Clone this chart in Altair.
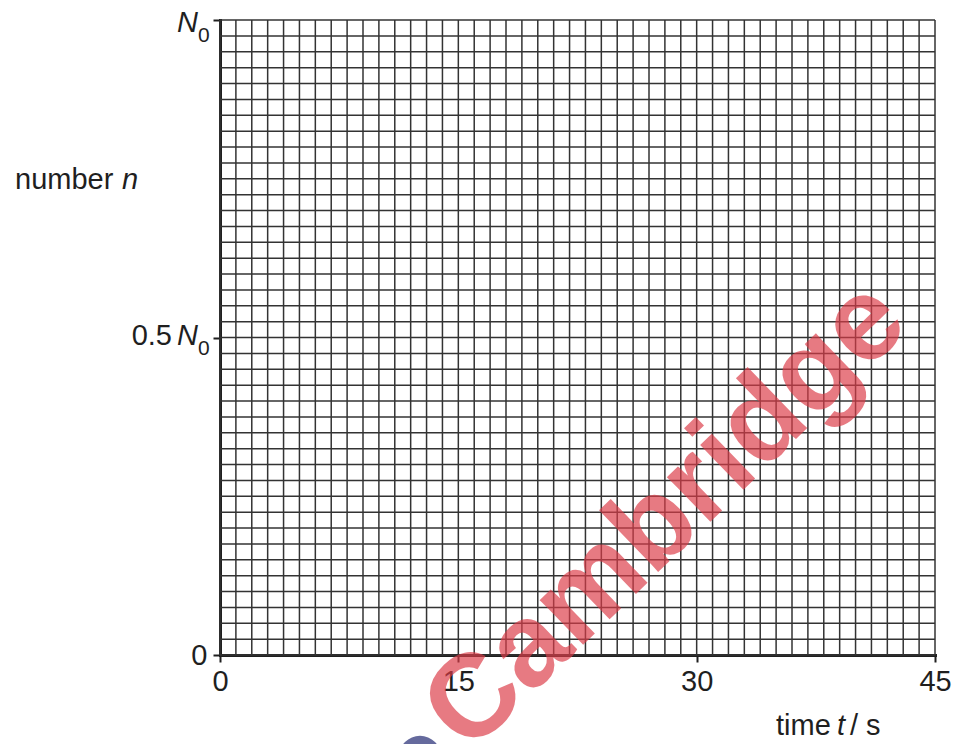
import altair as alt
import pandas as pd

FONT = "Liberation Sans"
INK = "#1f1f1f"
GRID = "#333333"

# time axis, seconds: one grid line per second, labelled every 15 s
t_minor = list(range(0, 46))
t_major = [0, 15, 30, 45]

# number axis, as a fraction of N0: 40 small squares, ticks at 0, 0.5 and 1
n_minor = [i / 40 for i in range(41)]
n_major = [0, 0.5, 1]

# labels written beside the vertical ticks
n_label_values = [1.0, 0.5]
n_label_coef = ["", "0.5"]
n_label_symbol = ["N", "N"]
n_label_sub = ["0", "0"]

xs = alt.Scale(domain=[0, 45], nice=False, zero=False)
ys = alt.Scale(domain=[0, 1], nice=False, zero=False)

x_axis = alt.Axis(
    values=t_major, title=None, grid=False,
    domainColor=INK, domainWidth=3, domainCap="square",
    tickColor=INK, tickWidth=2, tickSize=7,
    labelFont=FONT, labelFontSize=29, labelColor=INK,
    labelPadding=5, labelBaseline="top", labelFlush=False, labelOverlap=False,
)
y_axis = alt.Axis(
    values=n_major, title=None, grid=False,
    domainColor=INK, domainWidth=3, domainCap="square",
    tickColor=INK, tickWidth=2, tickSize=7,
    labelFont=FONT, labelFontSize=29, labelColor=INK,
    labelPadding=6, labelFlush=False, labelOverlap=False,
    labelExpr="datum.value === 0 ? '0' : ''",
)

# graph-paper grid
vgrid = alt.Chart(pd.DataFrame({"t": t_minor})).mark_rule(
    color=GRID, strokeWidth=1.5
).encode(x=alt.X("t:Q", scale=xs, axis=x_axis))

hgrid = alt.Chart(pd.DataFrame({"n": n_minor})).mark_rule(
    color=GRID, strokeWidth=1.5
).encode(y=alt.Y("n:Q", scale=ys, axis=y_axis))

layers = [vgrid, hgrid]

# "0.5 N0" style labels: coefficient, italic N, subscript 0
label_dy = [12, 7]
for i, v in enumerate(n_label_values):
    df = pd.DataFrame({
        "n": [v],
        "coef": [n_label_coef[i]],
        "sym": [n_label_symbol[i]],
        "sub": [n_label_sub[i]],
    })
    base = alt.Chart(df)
    yenc = alt.Y("n:Q", scale=ys, axis=y_axis)
    dy = label_dy[i]
    layers.append(base.mark_text(
        align="right", baseline="alphabetic", dy=dy,
        font=FONT, fontSize=29, color=INK,
    ).encode(x=alt.value(-48), y=yenc, text="coef:N"))
    layers.append(base.mark_text(
        align="left", baseline="alphabetic", dy=dy,
        font=FONT, fontSize=29, fontStyle="italic", color=INK,
    ).encode(x=alt.value(-43), y=yenc, text="sym:N"))
    layers.append(base.mark_text(
        align="left", baseline="alphabetic", dy=dy + 10,
        font=FONT, fontSize=21, color=INK,
    ).encode(x=alt.value(-22), y=yenc, text="sub:N"))


def caption(text, x, y, italic=False):
    return alt.Chart(pd.DataFrame({"label": [text]})).mark_text(
        align="left", baseline="alphabetic", font=FONT, fontSize=29,
        fontStyle="italic" if italic else "normal", color=INK,
    ).encode(x=alt.value(x), y=alt.value(y), text="label:N")


# axis captions with italic quantity symbols
layers += [
    caption("number", -205, 169),
    caption("n", -98, 169, italic=True),
    caption("time", 556, 715),
    caption("t", 617, 715, italic=True),
    caption("/ s", 630, 715),
]

# publisher watermark across the grid
watermark = alt.Chart(pd.DataFrame({"label": ["Cambridge"]})).mark_text(
    align="center", baseline="middle", angle=316,
    font=FONT, fontSize=118, fontWeight="bold",
    color="#dc3c48", opacity=0.68,
).encode(x=alt.value(446), y=alt.value(496), text="label:N")

logo = alt.Chart(pd.DataFrame({"k": [0]})).mark_circle(
    size=1800, color="#545a92", opacity=0.9
).encode(x=alt.value(200), y=alt.value(737))

layers += [watermark, logo]

chart = alt.layer(*layers).properties(
    width=715,
    height=635,
    padding={"left": 220, "top": 20, "right": 21, "bottom": 89},
    autosize=alt.AutoSizeParams(type="none"),
).configure(background="white").configure_view(stroke=None)

chart.save("out.html", embed_options={"renderer": "svg", "actions": False})
